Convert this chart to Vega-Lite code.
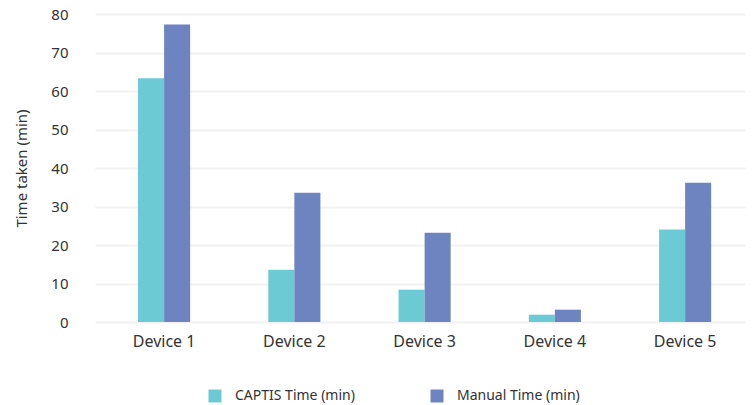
{
  "$schema": "https://vega.github.io/schema/vega-lite/v6.json",
  "width": 650,
  "height": 308,
  "autosize": {"type": "none"},
  "padding": {"left": 95, "top": 14, "right": 7, "bottom": 83},
  "background": "#ffffff",
  "config": {
    "font": "Noto Sans",
    "view": {"stroke": null},
    "axis": {"labelColor": "#333333", "titleColor": "#333333"}
  },
  "data": {
    "values": [
      {"device": "Device 1", "method": "CAPTIS Time (min)", "time": 63.3},
      {"device": "Device 1", "method": "Manual Time (min)", "time": 77.3},
      {"device": "Device 2", "method": "CAPTIS Time (min)", "time": 13.6},
      {"device": "Device 2", "method": "Manual Time (min)", "time": 33.6},
      {"device": "Device 3", "method": "CAPTIS Time (min)", "time": 8.4},
      {"device": "Device 3", "method": "Manual Time (min)", "time": 23.2},
      {"device": "Device 4", "method": "CAPTIS Time (min)", "time": 1.9},
      {"device": "Device 4", "method": "Manual Time (min)", "time": 3.2},
      {"device": "Device 5", "method": "CAPTIS Time (min)", "time": 24.0},
      {"device": "Device 5", "method": "Manual Time (min)", "time": 36.2}
    ]
  },
  "mark": {"type": "bar"},
  "encoding": {
    "x": {
      "field": "device",
      "type": "nominal",
      "scale": {"paddingInner": 0.6, "paddingOuter": 0.295, "align": 0.56},
      "axis": {
        "title": null,
        "labelAngle": 0,
        "labelFontSize": 16,
        "labelPadding": 11,
        "labelDx": -5,
        "domain": false,
        "ticks": false
      }
    },
    "xOffset": {"field": "method", "type": "nominal"},
    "y": {
      "field": "time",
      "type": "quantitative",
      "scale": {"domain": [0, 80]},
      "axis": {
        "title": "Time taken (min)",
        "titleFontSize": 15,
        "titleFontWeight": "normal",
        "titlePadding": 21,
        "labelFontSize": 15,
        "labelPadding": 27,
        "tickCount": 8,
        "domain": false,
        "ticks": false,
        "gridColor": "#f2f2f2",
        "gridWidth": 2
      }
    },
    "color": {
      "field": "method",
      "type": "nominal",
      "scale": {"range": ["#6ccad5", "#6e84c1"]},
      "legend": {
        "title": null,
        "orient": "none",
        "legendX": 113,
        "legendY": 375,
        "direction": "horizontal",
        "symbolType": "square",
        "symbolSize": 169,
        "symbolStrokeWidth": 0,
        "labelFontSize": 14,
        "labelColor": "#333333",
        "labelOffset": 13,
        "columnPadding": 75
      }
    }
  }
}
